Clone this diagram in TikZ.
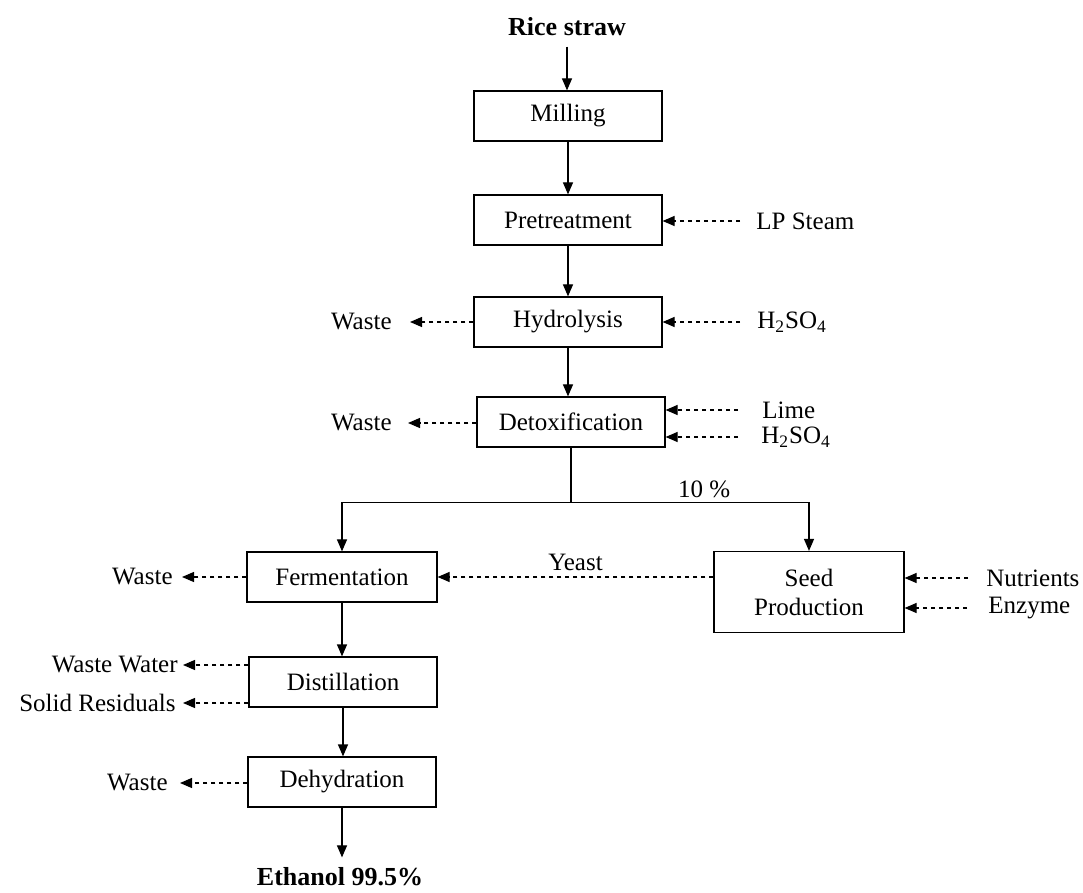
\documentclass[tikz,border=0pt]{standalone}
\usepackage{fontspec}
\setmainfont{Liberation Serif}
\usetikzlibrary{arrows.meta, positioning}

\begin{document}
\begin{tikzpicture}[x=0.5pt, y=-0.5pt,
    process/.style={rectangle, draw, line width=0.6pt, minimum width=94pt, minimum height=25pt, inner sep=0pt, font=\fontsize{12.5}{14.5}\selectfont},
    stream/.style={inner sep=0pt, font=\fontsize{12.5}{14.5}\selectfont},
    endpoint/.style={inner sep=5pt, font=\fontsize{13}{15}\selectfont\bfseries},
    arrow/.style={-{Triangle[length=6pt, width=5pt]}, line width=0.6pt},
    flow/.style={arrow, dash pattern=on 2pt off 2pt}
]
\useasboundingbox (0,0) rectangle (1083,893);

% Main line of process steps
\node[endpoint] (straw) at (567,27) {Rice straw};
\node[process] (mill) at (568,116) {Milling};
\node[process] (pre) at (568,220) {Pretreatment};
\node[process] (hyd) at (568,322) {Hydrolysis};
\node[process] (detox) at (571,422) {Detoxification};
\node[process, minimum width=95pt] (ferm) at (342,577) {Fermentation};
\node[process, minimum width=95pt, minimum height=40.5pt, align=center] (seed) at (809,592) {Seed\\Production};
\node[process] (dist) at (343,682) {Distillation};
\node[process] (dehyd) at (342,782) {Dehydration};
\node[endpoint] (ethanol) at (340,877) {Ethanol 99.5\%};

\draw[arrow] (straw) -- (straw |- mill.north);
\draw[arrow] (mill) -- (mill |- pre.north);
\draw[arrow] (pre) -- (pre |- hyd.north);
\draw[arrow] (hyd) -- (hyd |- detox.north);

% Split to fermentation and seed production
\coordinate (split) at ([yshift=-27.5pt]detox.south);
\draw[line width=0.6pt] (detox.south) -- (split);
\draw[arrow] (split) -| (ferm.north);
\draw[arrow] (split) -| node[stream, pos=0.28, above=2pt] {10 \%} (seed.north);
\draw[flow] (seed.west |- ferm.east) -- node[stream, above=3pt] {Yeast} (ferm.east);

\draw[arrow] (ferm) -- (ferm |- dist.north);
\draw[arrow] (dist) -- (dist |- dehyd.north);
\draw[arrow] (dehyd) -- (dehyd |- ethanol.north);

% Feeds on the right
\node[stream, anchor=west] (steam) at (756,221) {LP Steam};
\node[stream, anchor=west] (acid-hyd) at (757,322) {H\textsubscript{2}SO\textsubscript{4}};
\node[stream, anchor=west] (lime) at (762,410) {Lime};
\node[stream, anchor=west] (acid-detox) at (761,437) {H\textsubscript{2}SO\textsubscript{4}};
\node[stream, anchor=west] (nutr) at (986,578) {Nutrients};
\node[stream, anchor=west] (enz) at (988,608) {Enzyme};

\draw[flow] ([xshift=-8pt]steam.west) -- (steam.west -| pre.east);
\draw[flow] ([xshift=-8.5pt]acid-hyd.west) -- (acid-hyd.west -| hyd.east);
\draw[flow] ([xshift=-12pt]lime.west) -- (lime.west -| detox.east);
\draw[flow] ([xshift=-11.5pt]acid-detox.west) -- (acid-detox.west -| detox.east);
\draw[flow] ([xshift=-9pt]nutr.west) -- (nutr.west -| seed.east);
\draw[flow] ([xshift=-10.5pt]enz.west) -- (enz.west -| seed.east);

% Outlets on the left
\node[stream, anchor=east] (w-hyd) at (392,322) {Waste};
\node[stream, anchor=east] (w-detox) at (392,423) {Waste};
\node[stream, anchor=east] (w-ferm) at (173,577) {Waste};
\node[stream, anchor=east] (w-water) at (178,665) {Waste Water};
\node[stream, anchor=east] (w-solid) at (176,703) {Solid Residuals};
\node[stream, anchor=east] (w-dehyd) at (168,783) {Waste};

\draw[flow] (w-hyd.east -| hyd.west) -- ([xshift=9pt]w-hyd.east);
\draw[flow] (w-detox.east -| detox.west) -- ([xshift=8pt]w-detox.east);
\draw[flow] (w-ferm.east -| ferm.west) -- ([xshift=4.5pt]w-ferm.east);
\draw[flow] (w-water.east -| dist.west) -- ([xshift=2.5pt]w-water.east);
\draw[flow] (w-solid.east -| dist.west) -- ([xshift=3.5pt]w-solid.east);
\draw[flow] (w-dehyd.east -| dehyd.west) -- ([xshift=6pt]w-dehyd.east);
\end{tikzpicture}
\end{document}
